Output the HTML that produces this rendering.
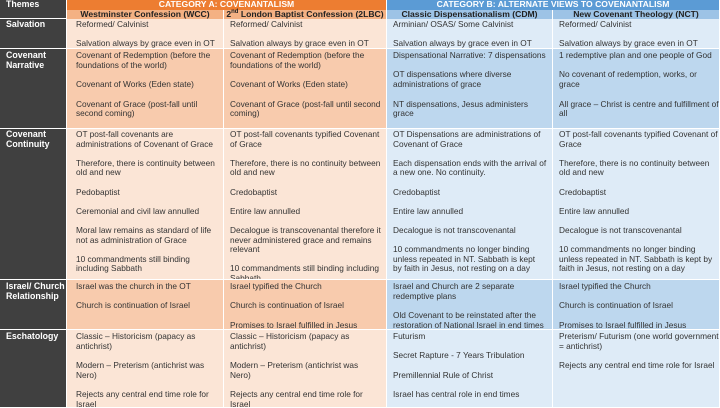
<!DOCTYPE html>
<html><head><meta charset="utf-8"><style>
*{margin:0;padding:0;box-sizing:border-box}
body{width:720px;height:408px;overflow:hidden;background:#fff;font-family:"Liberation Sans",Arial,sans-serif;position:relative}
.c{position:absolute;font-size:8.3px;line-height:9.7px;color:#333;padding:2px 0 0 6px;white-space:pre;border-right:1px solid #fff;border-bottom:1px solid #fff;overflow:hidden}
.w{padding-left:9px}
.t{background:#404040;color:#fff;font-weight:bold;padding-left:6px;font-size:8.8px}
.lo{background:#fbe5d6}.do{background:#f8cbad}.lb{background:#deebf7}.db{background:#bdd7ee}
.h{position:absolute;font-weight:bold;font-size:8.6px;text-align:center;line-height:9.5px;color:#fff;border-right:1px solid #fff;white-space:nowrap}
.h2{color:#222;background:#f4b183}
.h2b{color:#222;background:#9dc3e6}
.k{padding-top:1px;line-height:9.6px}
</style></head><body>
<div class="c t" style="left:0;top:0;width:67px;height:19px;padding-top:0">Themes</div>
<div class="h" style="left:67px;top:0;width:320px;height:10px;background:#ed7d31">CATEGORY A: COVENANTALISM</div>
<div class="h" style="left:387px;top:0;width:333px;height:10px;background:#5b9bd5">CATEGORY B: ALTERNATE VIEWS TO COVENANTALISM</div>
<div class="h h2" style="left:67px;top:10px;width:157px;height:9px">Westminster Confession (WCC)</div>
<div class="h h2" style="left:224px;top:10px;width:163px;height:9px">2<sup style="font-size:6px;line-height:0">nd</sup> London Baptist Confession (2LBC)</div>
<div class="h h2b" style="left:387px;top:10px;width:166px;height:9px">Classic Dispensationalism (CDM)</div>
<div class="h h2b" style="left:553px;top:10px;width:167px;height:9px">New Covenant Theology (NCT)</div>

<div class="c t" style="left:0;top:19px;width:67px;height:30px;padding-top:1px">Salvation</div>
<div class="c lo w" style="left:67px;top:19px;width:157px;height:30px;padding-top:1px">Reformed/ Calvinist

Salvation always by grace even in OT</div>
<div class="c lo" style="left:224px;top:19px;width:163px;height:30px;padding-top:1px">Reformed/ Calvinist

Salvation always by grace even in OT</div>
<div class="c lb" style="left:387px;top:19px;width:166px;height:30px;padding-top:1px">Arminian/ OSAS/ Some Calvinist

Salvation always by grace even in OT</div>
<div class="c lb" style="left:553px;top:19px;width:167px;height:30px;padding-top:1px">Reformed/ Calvinist

Salvation always by grace even in OT</div>

<div class="c t" style="left:0;top:49px;width:67px;height:80px">Covenant
Narrative</div>
<div class="c do w" style="left:67px;top:49px;width:157px;height:80px">Covenant of Redemption (before the
foundations of the world)

Covenant of Works (Eden state)

Covenant of Grace (post-fall until
second coming)</div>
<div class="c do" style="left:224px;top:49px;width:163px;height:80px">Covenant of Redemption (before the
foundations of the world)

Covenant of Works (Eden state)

Covenant of Grace (post-fall until second
coming)</div>
<div class="c db" style="left:387px;top:49px;width:166px;height:80px">Dispensational Narrative: 7 dispensations

OT dispensations where diverse
administrations of grace

NT dispensations, Jesus administers
grace</div>
<div class="c db" style="left:553px;top:49px;width:167px;height:80px">1 redemptive plan and one people of God

No covenant of redemption, works, or
grace

All grace – Christ is centre and fulfillment of
all</div>

<div class="c t k" style="left:0;top:129px;width:67px;height:151px">Covenant
Continuity</div>
<div class="c lo w k" style="left:67px;top:129px;width:157px;height:151px">OT post-fall covenants are
administrations of Covenant of Grace

Therefore, there is continuity between
old and new

Pedobaptist

Ceremonial and civil law annulled

Moral law remains as standard of life
not as administration of Grace

10 commandments still binding
including Sabbath</div>
<div class="c lo k" style="left:224px;top:129px;width:163px;height:151px">OT post-fall covenants typified Covenant
of Grace

Therefore, there is no continuity between
old and new

Credobaptist

Entire law annulled

Decalogue is transcovenantal therefore it
never administered grace and remains
relevant

10 commandments still binding including
Sabbath</div>
<div class="c lb k" style="left:387px;top:129px;width:166px;height:151px">OT Dispensations are administrations of
Covenant of Grace

Each dispensation ends with the arrival of
a new one. No continuity.

Credobaptist

Entire law annulled

Decalogue is not transcovenantal

10 commandments no longer binding
unless repeated in NT. Sabbath is kept
by faith in Jesus, not resting on a day</div>
<div class="c lb k" style="left:553px;top:129px;width:167px;height:151px">OT post-fall covenants typified Covenant of
Grace

Therefore, there is no continuity between
old and new

Credobaptist

Entire law annulled

Decalogue is not transcovenantal

10 commandments no longer binding
unless repeated in NT. Sabbath is kept by
faith in Jesus, not resting on a day</div>

<div class="c t" style="left:0;top:280px;width:67px;height:50px">Israel/ Church
Relationship</div>
<div class="c do w" style="left:67px;top:280px;width:157px;height:50px">Israel was the church in the OT

Church is continuation of Israel</div>
<div class="c do" style="left:224px;top:280px;width:163px;height:50px">Israel typified the Church

Church is continuation of Israel

Promises to Israel fulfilled in Jesus</div>
<div class="c db" style="left:387px;top:280px;width:166px;height:50px">Israel and Church are 2 separate
redemptive plans

Old Covenant to be reinstated after the
restoration of National Israel in end times</div>
<div class="c db" style="left:553px;top:280px;width:167px;height:50px">Israel typified the Church

Church is continuation of Israel

Promises to Israel fulfilled in Jesus</div>

<div class="c t" style="left:0;top:330px;width:67px;height:78px">Eschatology</div>
<div class="c lo w" style="left:67px;top:330px;width:157px;height:78px">Classic – Historicism (papacy as
antichrist)

Modern – Preterism (antichrist was
Nero)

Rejects any central end time role for
Israel</div>
<div class="c lo" style="left:224px;top:330px;width:163px;height:78px">Classic – Historicism (papacy as
antichrist)

Modern – Preterism (antichrist was
Nero)

Rejects any central end time role for
Israel</div>
<div class="c lb" style="left:387px;top:330px;width:166px;height:78px">Futurism

Secret Rapture - 7 Years Tribulation

Premillennial Rule of Christ

Israel has central role in end times</div>
<div class="c lb" style="left:553px;top:330px;width:167px;height:78px">Preterism/ Futurism (one world government
= antichrist)

Rejects any central end time role for Israel</div>
</body></html>
